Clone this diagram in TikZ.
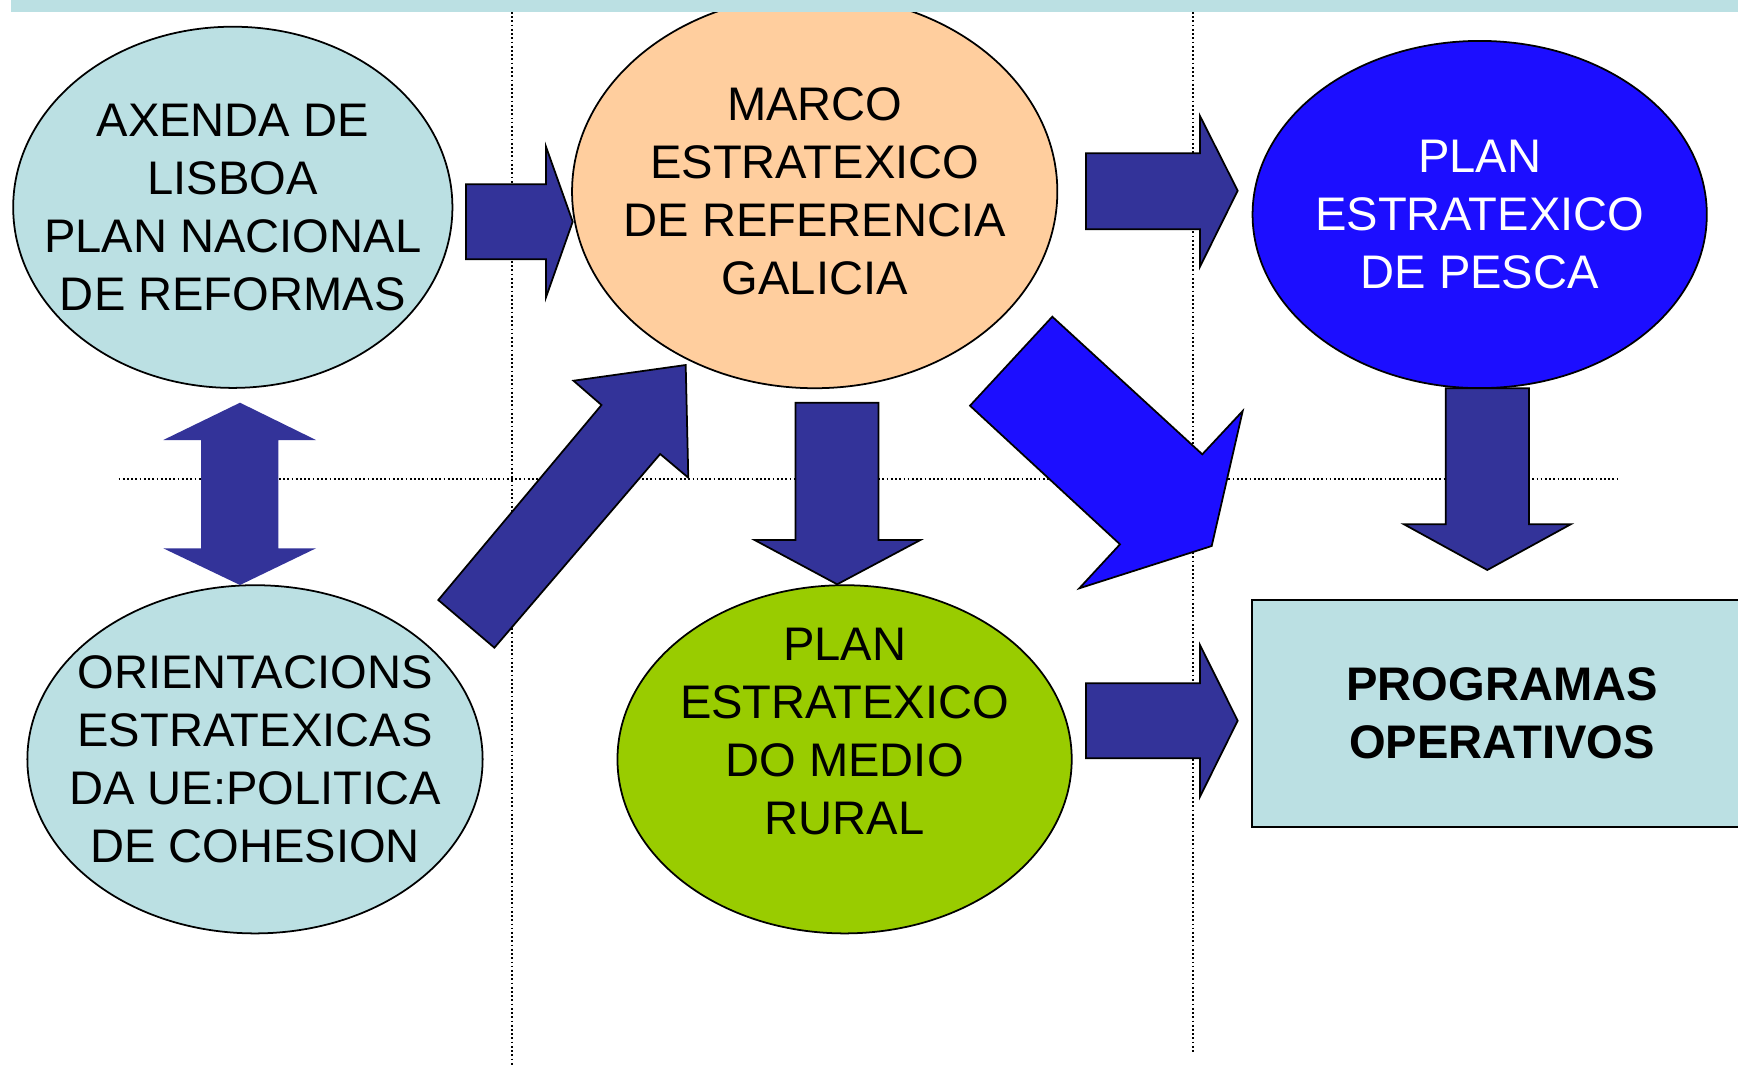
\documentclass[tikz,border=0pt]{standalone}
\usepackage{fontspec}
\setmainfont{Liberation Sans}
\usepackage{tikz}
\usetikzlibrary{shapes.geometric}

\definecolor{paleblue}{RGB}{187,224,227}
\definecolor{peach}{RGB}{255,206,158}
\definecolor{vivid}{RGB}{28,14,255}
\definecolor{navy}{RGB}{51,51,153}
\definecolor{leaf}{RGB}{153,204,0}

\tikzset{
	bubble/.style={ellipse,draw=black,line width=0.5pt,inner sep=0pt},
	block/.style={fill=navy,draw=black,line width=0.5pt},
	guide/.style={line width=0.5pt,dash pattern=on 0.5pt off 0.7pt}
}

\begin{document}
\begin{tikzpicture}[x=0.01cm,y=-0.01cm,font=\fontsize{13.4}{16.5}\selectfont]
		\useasboundingbox (0,0) rectangle (1738,1066);

		\draw[guide] (512,12) -- (512,1066);
		\draw[guide] (1192.7,12) -- (1192.7,1053);
		\draw[guide] (118.6,479) -- (1618,479);

		\begin{scope}[every node/.style={bubble}]
		    \node[fill=paleblue,minimum width=4.39cm,minimum height=3.61cm] (lisboa) at (232.8,207.3) {};
		    \node[fill=peach,minimum width=4.85cm,minimum height=3.93cm] (marco) at (814.7,191.6) {};
		    \node[fill=vivid,minimum width=4.54cm,minimum height=3.47cm] (pesca) at (1479.7,214.5) {};
		    \node[fill=paleblue,minimum width=4.55cm,minimum height=3.48cm] (ue) at (255,759.3) {};
		    \node[fill=leaf,minimum width=4.54cm,minimum height=3.48cm] (rural) at (844.6,759.3) {};
		\end{scope}

		\begin{scope}[every node/.style={align=center}]
		    \node (lisboatxt) at (lisboa) {AXENDA DE\\LISBOA\\PLAN NACIONAL\\DE REFORMAS};
		    \node (marcotxt) at (marco) {MARCO\\ESTRATEXICO\\DE REFERENCIA\\GALICIA};
		    \node[text=white] (pescatxt) at (pesca) {PLAN\\ESTRATEXICO\\DE PESCA};
		    \node (uetxt) at (ue) {ORIENTACIONS\\ESTRATEXICAS\\DA UE:POLITICA\\DE COHESION};
		    \node (ruraltxt) at (844.6,731.5) {PLAN\\ESTRATEXICO\\DO MEDIO\\RURAL};
		\end{scope}
		\node[rectangle,draw=black,line width=0.6pt,fill=paleblue,minimum width=5cm,minimum height=2.27cm,align=center,font=\fontsize{13.4}{16.5}\selectfont\bfseries] (po) at (1502,713.5) {PROGRAMAS\\OPERATIVOS};

		\fill[paleblue] (11,0) rectangle (1738,12);

		\begin{scope}[every path/.style={block}]
		    \path (466,184.3) -- (546,184.3) -- (546,146.7) -- (572.7,221.7) -- (546,297.3) -- (546,259.3) -- (466,259.3) -- cycle;
		    \path (1086,153.3) -- (1200,153.3) -- (1200,116) -- (1237.7,190.7) -- (1200,266.7) -- (1200,229.3) -- (1086,229.3) -- cycle;
		    \path (1086,683.3) -- (1200,683.3) -- (1200,645) -- (1237.7,720.7) -- (1200,796.7) -- (1200,758.3) -- (1086,758.3) -- cycle;
		    \path (795.4,402.7) -- (878.6,402.7) -- (878.6,540) -- (920.4,540) -- (837.2,584.3) -- (754.6,540) -- (795.4,540) -- cycle;
		    \path (1445.7,388.3) -- (1529,388.3) -- (1529,524.3) -- (1570.7,524.3) -- (1487.3,570) -- (1404,524.3) -- (1445.7,524.3) -- cycle;
		    \path (438.3,600) -- (601.5,405) -- (573.5,380.7) -- (685.7,365) -- (688.3,477.7) -- (660.2,454) -- (494.4,647.7) -- cycle;
		    \path[fill=vivid] (1052.3,316.7) -- (1202.3,454.3) -- (1242.7,411) -- (1211.7,546) -- (1079.3,588.3) -- (1120,544.3) -- (970,405.7) -- cycle;
		    \path[draw=none] (240,402.7) -- (316,440) -- (278.3,440) -- (278.3,548.3) -- (316,548.3) -- (240,585) -- (163.3,548.3) -- (201,548.3) -- (201,440) -- (163.3,440) -- cycle;
		\end{scope}
\end{tikzpicture}
\end{document}
